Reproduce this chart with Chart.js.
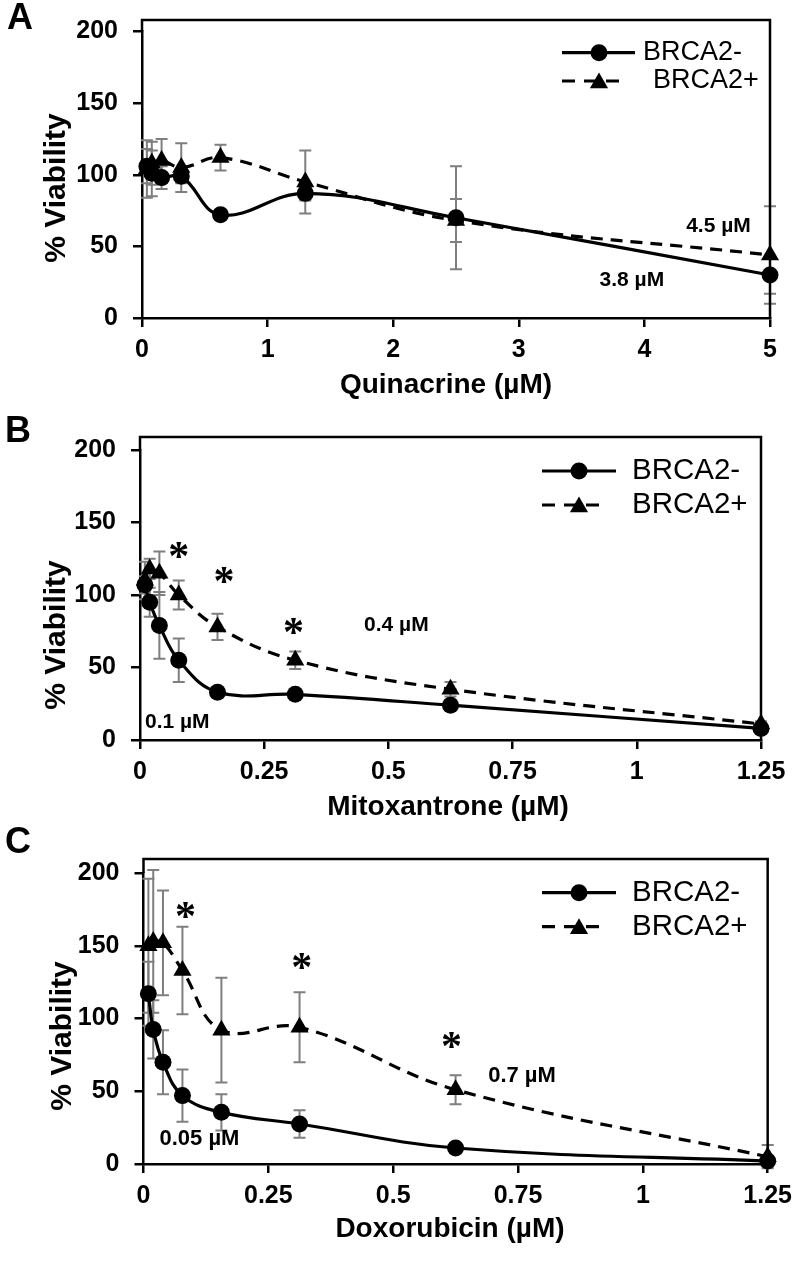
<!DOCTYPE html>
<html><head><meta charset="utf-8">
<script src="https://cdn.jsdelivr.net/npm/chart.js@4.4.1/dist/chart.umd.min.js"></script>
<style>
html,body{margin:0;padding:0;background:#fff;}
body{width:800px;height:1262px;position:relative;overflow:hidden;}
canvas{position:absolute;left:0;top:0;display:block;}
</style></head><body>
<canvas id="cA" width="800" height="1262" style="width:800px;height:1262px"></canvas>
<canvas id="cB" width="800" height="1262" style="width:800px;height:1262px"></canvas>
<canvas id="cC" width="800" height="1262" style="width:800px;height:1262px"></canvas>
<script>
// ---------------- DATA ----------------
const seriesNames = ['BRCA2-', 'BRCA2+'];
const yTickValues = [0, 50, 100, 150, 200];
const yTickLabels = ['0', '50', '100', '150', '200'];
const yTitle = '% Viability';

// Panel A - Quinacrine
const quinX = [0.039, 0.078, 0.156, 0.3125, 0.625, 1.3, 2.5, 5];
const quinNeg = [106, 101, 98, 99, 72, 87, 70, 30];
const quinNegErr = [12, 16, 8, 5, 3, 5, 36, 13];
const quinPos = [104, 108, 110, 105, 112, 95, 68, 44];
const quinPosErr = [20, 15, 15, 17, 9, 22, 15, 34];
const quinXTicks = [0, 1, 2, 3, 4, 5];
const quinXTickLabels = ['0', '1', '2', '3', '4', '5'];
const quinLabels = [['4.5 µM', 4.59, 64], ['3.8 µM', 3.9, 26.5]];
const quinStars = [];

// Panel B - Mitoxantrone
const mitoX = [0.0098, 0.0195, 0.039, 0.078, 0.156, 0.3125, 0.625, 1.25];
const mitoNeg = [107, 95, 79, 55, 33, 31.5, 24, 8];
const mitoNegErr = [6, 10, 23, 15, 3, 2, 3, 1];
const mitoPos = [110, 118, 115, 100, 78, 55, 35, 11];
const mitoPosErr = [13, 7, 15, 10, 9, 6, 5, 2];
const mitoXTicks = [0, 0.25, 0.5, 0.75, 1, 1.25];
const mitoXTickLabels = ['0', '0.25', '0.5', '0.75', '1', '1.25'];
const mitoLabels = [['0.4 µM', 0.516, 79], ['0.1 µM', 0.075, 12.4]];
const mitoStars = [[0.078, 133], [0.169, 116], [0.309, 80.7]];

// Panel C - Doxorubicin
const doxoX = [0.0098, 0.0195, 0.039, 0.078, 0.156, 0.3125, 0.625, 1.25];
const doxoNeg = [117, 92.5, 70, 47, 35.5, 27.5, 11, 2];
const doxoNegErr = [22, 20, 22, 18, 12.5, 9.5, 3, 2];
const doxoPos = [150, 153, 152, 133, 92, 94, 51, 5];
const doxoPosErr = [46, 49, 36, 30, 36, 24, 10, 8];
const doxoXTicks = [0, 0.25, 0.5, 0.75, 1, 1.25];
const doxoXTickLabels = ['0', '0.25', '0.5', '0.75', '1', '1.25'];
const doxoLabels = [['0.05 µM', 0.112, 17.2], ['0.7 µM', 0.758, 60.7]];
const doxoStars = [[0.084, 176.4], [0.317, 141.4], [0.617, 87.5]];

// ---------------- STYLE / LAYOUT ----------------
const FONT = "'Liberation Sans', Arial, Helvetica, sans-serif";
const ERR_COLOR = '#7f7f7f';
const PAGE_H = 1262;

const panels = [
  { id: 'cA', left: 142, right: 770, y200: 31.5, y0: 318, frameTop: 20,
    letter: 'A', letterPos: [20, 19], xTitle: 'Quinacrine (µM)', xTitlePos: [446, 385], yTitlePos: [57, 188],
    x: quinX, neg: quinNeg, negErr: quinNegErr, pos: quinPos, posErr: quinPosErr, xMax: 5,
    xTicks: quinXTicks, xTickLabels: quinXTickLabels, labels: quinLabels, stars: quinStars, labelSize: 21,
    legend: { x1: 562, x2: 635, xm: 599, y1: 52.7, y2: 81, t1: 643, t2: 653, size: 27 } },
  { id: 'cB', left: 140, right: 761, y200: 450, y0: 740, frameTop: 437,
    letter: 'B', letterPos: [18, 432], xTitle: 'Mitoxantrone (µM)', xTitlePos: [448, 807], yTitlePos: [57, 635],
    x: mitoX, neg: mitoNeg, negErr: mitoNegErr, pos: mitoPos, posErr: mitoPosErr, xMax: 1.25,
    xTicks: mitoXTicks, xTickLabels: mitoXTickLabels, labels: mitoLabels, stars: mitoStars, labelSize: 21,
    legend: { x1: 542, x2: 616, xm: 579, y1: 471, y2: 505, t1: 632, t2: 632, size: 29.5 } },
  { id: 'cC', left: 143.5, right: 768, y200: 873, y0: 1164, frameTop: 859,
    letter: 'C', letterPos: [18, 843], xTitle: 'Doxorubicin (µM)', xTitlePos: [450, 1229], yTitlePos: [63, 1036],
    x: doxoX, neg: doxoNeg, negErr: doxoNegErr, pos: doxoPos, posErr: doxoPosErr, xMax: 1.25,
    xTicks: doxoXTicks, xTickLabels: doxoXTickLabels, labels: doxoLabels, stars: doxoStars, labelSize: 22,
    legend: { x1: 542, x2: 616, xm: 579, y1: 892.7, y2: 926.7, t1: 632, t2: 632, size: 29.5 } }
];

function drawMarker(ctx, style, x, y) {
  ctx.save();
  ctx.fillStyle = '#000';
  ctx.beginPath();
  if (style === 'circle') {
    ctx.arc(x, y, 8.5, 0, Math.PI * 2);
  } else {
    const r = 10.5;
    ctx.moveTo(x, y - r);
    ctx.lineTo(x + r * 0.866, y + r * 0.5);
    ctx.lineTo(x - r * 0.866, y + r * 0.5);
    ctx.closePath();
  }
  ctx.fill();
  ctx.restore();
}

const decor = {
  id: 'decor',
  beforeDatasetsDraw(chart) {
    const p = chart.options.plugins.decor.panel;
    const ctx = chart.ctx, xs = chart.scales.x, ys = chart.scales.y;
    ctx.save();
    ctx.strokeStyle = ERR_COLOR;
    ctx.lineWidth = 2;
    [[p.pos, p.posErr], [p.neg, p.negErr]].forEach(([vals, errs]) => {
      p.x.forEach((xv, i) => {
        const px = xs.getPixelForValue(xv);
        const yt = ys.getPixelForValue(vals[i] + errs[i]);
        const yb = ys.getPixelForValue(vals[i] - errs[i]);
        ctx.beginPath();
        ctx.moveTo(px, yt); ctx.lineTo(px, yb);
        ctx.moveTo(px - 6, yt); ctx.lineTo(px + 6, yt);
        ctx.moveTo(px - 6, yb); ctx.lineTo(px + 6, yb);
        ctx.stroke();
      });
    });
    ctx.restore();
  },
  afterDraw(chart) {
    const p = chart.options.plugins.decor.panel;
    const ctx = chart.ctx, xs = chart.scales.x, ys = chart.scales.y;
    const ca = chart.chartArea;
    ctx.save();
    // frame
    ctx.strokeStyle = '#000';
    ctx.lineWidth = 2.5;
    ctx.beginPath();
    ctx.moveTo(ca.left, ca.top);
    ctx.lineTo(ca.left, p.frameTop);
    ctx.lineTo(ca.right, p.frameTop);
    ctx.lineTo(ca.right, ca.bottom);
    ctx.stroke();

    // panel letter
    ctx.fillStyle = '#000';
    ctx.textAlign = 'center';
    ctx.textBaseline = 'middle';
    ctx.font = 'bold 36px ' + FONT;
    ctx.fillText(p.letter, p.letterPos[0], p.letterPos[1]);

    // axis titles
    ctx.font = 'bold 28px ' + FONT;
    ctx.fillText(p.xTitle, p.xTitlePos[0], p.xTitlePos[1]);
    ctx.save();
    ctx.translate(p.yTitlePos[0], p.yTitlePos[1]);
    ctx.rotate(-Math.PI / 2);
    ctx.font = 'bold 30px ' + FONT;
    ctx.fillText(yTitle, 0, 0);
    ctx.restore();

    // value labels
    ctx.font = 'bold ' + p.labelSize + 'px ' + FONT;
    p.labels.forEach(([t, xv, yv]) => {
      ctx.fillText(t, xs.getPixelForValue(xv), ys.getPixelForValue(yv));
    });
    // significance stars
    ctx.font = "bold 42px 'Liberation Serif', 'Times New Roman', serif";
    ctx.textBaseline = 'alphabetic';
    p.stars.forEach(([xv, yv]) => {
      ctx.fillText('*', xs.getPixelForValue(xv), ys.getPixelForValue(yv) + 23);
    });

    // legend
    const L = p.legend;
    ctx.strokeStyle = '#000';
    ctx.lineWidth = 3.2;
    ctx.beginPath();
    ctx.moveTo(L.x1, L.y1); ctx.lineTo(L.x2, L.y1);
    ctx.stroke();
    drawMarker(ctx, 'circle', L.xm, L.y1);
    ctx.setLineDash([13, 9]);
    ctx.beginPath();
    ctx.moveTo(L.x1, L.y2); ctx.lineTo(L.x2 - 10, L.y2);
    ctx.stroke();
    ctx.setLineDash([]);
    drawMarker(ctx, 'triangle', L.xm, L.y2 + 2);
    ctx.font = L.size + 'px ' + FONT;
    ctx.textAlign = 'left';
    ctx.textBaseline = 'middle';
    ctx.fillText(seriesNames[0], L.t1, L.y1);
    ctx.fillText(seriesNames[1], L.t2, L.y2);
    ctx.restore();
  }
};

panels.forEach(p => {
  const ctx = document.getElementById(p.id).getContext('2d');
  const tickFont = { family: FONT, size: 25, weight: 'bold' };
  new Chart(ctx, {
    type: 'line',
    data: {
      datasets: [
        { label: seriesNames[0], data: p.x.map((v, i) => ({ x: v, y: p.neg[i] })),
          borderColor: '#000', backgroundColor: '#000', borderWidth: 3.2,
          pointStyle: 'circle', pointRadius: 8.5, pointBorderWidth: 0, pointBackgroundColor: '#000',
          tension: 0.4, clip: false, fill: false },
        { label: seriesNames[1], data: p.x.map((v, i) => ({ x: v, y: p.pos[i] })),
          borderColor: '#000', backgroundColor: '#000', borderWidth: 3.2, borderDash: [12, 8],
          pointStyle: 'triangle', pointRadius: 10.5, pointBorderWidth: 0, pointBackgroundColor: '#000',
          tension: 0.4, clip: false, fill: false }
      ]
    },
    options: {
      responsive: false, animation: false, events: [],
      layout: { padding: { top: p.y200, right: 800 - p.right, left: 0, bottom: 0 } },
      plugins: { legend: { display: false }, tooltip: { enabled: false }, decor: { panel: p } },
      scales: {
        x: {
          type: 'linear', min: 0, max: p.xMax,
          afterBuildTicks: s => { s.ticks = p.xTicks.map(v => ({ value: v })); },
          afterFit: s => { s.height = PAGE_H - p.y0; },
          grid: { drawOnChartArea: false, drawTicks: true, tickLength: 9, color: '#000', lineWidth: 2.5 },
          border: { display: true, color: '#000', width: 2.5 },
          ticks: { color: '#000', font: tickFont, padding: 8, maxRotation: 0, autoSkip: false,
                   callback: (v, i) => p.xTickLabels[i] }
        },
        y: {
          type: 'linear', min: 0, max: 200,
          afterBuildTicks: s => { s.ticks = yTickValues.map(v => ({ value: v })); },
          afterFit: s => { s.width = p.left; },
          grid: { drawOnChartArea: false, drawTicks: true, tickLength: 9, color: '#000', lineWidth: 2.5 },
          border: { display: true, color: '#000', width: 2.5 },
          ticks: { color: '#000', font: tickFont, padding: 15, autoSkip: false,
                   callback: (v, i) => yTickLabels[i] }
        }
      }
    },
    plugins: [decor]
  });
});
</script>
</body></html>
